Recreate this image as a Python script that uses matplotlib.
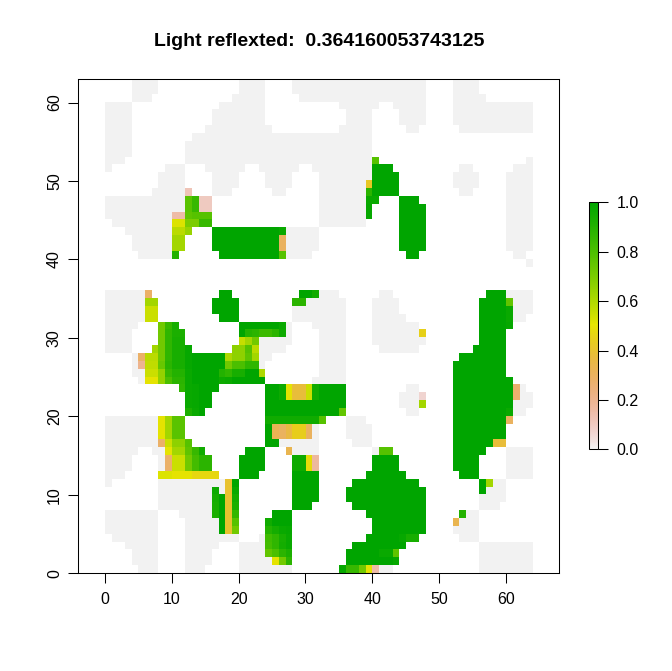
import colorsys
import numpy as np
import matplotlib
matplotlib.use("Agg")
import matplotlib.pyplot as plt
from matplotlib.colors import ListedColormap

TITLE = "Light reflexted:  0.364160053743125"
X_TICKS = [0, 10, 20, 30, 40, 50, 60]
Y_TICKS = [0, 10, 20, 30, 40, 50, 60]
BAR_TICKS = [0.0, 0.2, 0.4, 0.6, 0.8, 1.0]
N_COLS, N_ROWS = 64, 63

# Cells equal to zero: row -> column runs (start, stop)
ZERO_RUNS = {
    62: [(4,8),(20,24),(28,48),(52,56)],
    61: [(4,8),(20,24),(28,48),(52,56)],
    60: [(4,7),(19,24),(29,48),(52,57)],
    59: [(0,4),(17,24),(35,41),(43,48),(52,64)],
    58: [(0,4),(16,24),(36,40),(44,48),(52,64)],
    57: [(0,4),(16,24),(36,40),(44,48),(52,64)],
    56: [(0,4),(15,25),(35,40),(45,47),(53,64)],
    55: [(0,4),(13,40)],
    54: [(0,4),(12,40)],
    53: [(0,4),(12,40)],
    52: [(0,3),(12,40),(63,64)],
    51: [(0,1),(9,12),(15,21),(23,29),(31,40),(53,55),(61,64)],
    50: [(8,12),(16,20),(24,28),(32,40),(52,56),(60,64)],
    49: [(8,12),(16,20),(24,28),(32,39),(52,56),(60,64)],
    48: [(7,12),(16,19),(25,27),(32,39),(53,55),(60,64)],
    47: [(0,12),(32,39),(60,64)],
    46: [(0,12),(32,39),(60,64)],
    45: [(0,10),(32,39),(60,64)],
    44: [(1,10),(32,39),(60,64)],
    43: [(3,10),(27,32),(60,64)],
    42: [(4,10),(27,32),(60,64)],
    41: [(4,10),(27,32),(60,64)],
    40: [(5,10),(27,31),(61,63)],
    39: [(63,64)],
    35: [(0,6),(32,35),(41,43),(60,64)],
    34: [(0,6),(30,36),(40,44),(61,64)],
    33: [(0,6),(28,36),(40,44),(61,64)],
    32: [(0,6),(28,36),(40,45),(61,63)],
    31: [(0,5),(27,28),(31,36),(40,47)],
    30: [(0,4),(27,28),(32,36),(40,47)],
    29: [(0,4),(23,28),(32,36),(40,48)],
    28: [(0,4),(23,27),(32,36),(41,47)],
    27: [(4,5),(23,25),(32,36)],
    26: [(4,5),(23,24),(32,36)],
    25: [(4,6),(32,36)],
    24: [(5,6),(31,36)],
    23: [(45,47),(62,63)],
    22: [(44,47),(62,64)],
    21: [(44,47),(61,64)],
    20: [(45,47),(61,63)],
    19: [(0,8),(36,39)],
    18: [(0,8),(31,32),(36,40)],
    17: [(0,8),(31,32),(36,40)],
    16: [(0,8),(26,32),(37,40)],
    15: [(0,5),(7,9),(28,32),(40,41),(60,64)],
    14: [(0,4),(8,9),(60,64)],
    13: [(0,4),(8,9),(60,64)],
    12: [(0,3),(60,64)],
    11: [(0,1),(8,18),(58,60)],
    10: [(8,16),(17,18),(57,60)],
    9: [(8,16),(56,60)],
    8: [(8,16),(56,59)],
    7: [(0,8),(11,16),(54,56)],
    6: [(0,8),(12,17),(53,56)],
    5: [(0,8),(12,17),(52,56)],
    4: [(1,8),(12,20),(23,24),(53,56)],
    3: [(3,8),(12,17),(20,24),(56,64)],
    2: [(4,8),(12,16),(20,24),(56,64)],
    1: [(4,8),(12,16),(20,25),(56,64)],
    0: [(5,8),(12,15),(20,28),(41,43),(56,64)],
}

# Cells above zero: row -> (start, stop, value)
VALUE_RUNS = {
    52: [(40,41,.78)],
    51: [(40,43,1)],
    50: [(40,44,1)],
    49: [(39,40,.42),(40,44,1)],
    48: [(12,13,.12),(39,40,.88),(40,44,1)],
    47: [(12,13,.77),(13,14,.85),(14,16,.1),(39,41,.97),(44,47,1)],
    46: [(12,13,.77),(13,14,.85),(14,16,.1),(39,40,.98),(44,48,1)],
    45: [(10,12,.15),(12,13,.76),(13,16,.78),(39,40,.98),(44,48,1)],
    44: [(10,12,.52),(12,14,.7),(14,16,.85),(44,48,1)],
    43: [(10,12,.58),(12,13,.64),(16,26,1),(26,27,.97),(44,48,1)],
    42: [(10,12,.62),(16,26,1),(26,27,.3),(44,48,1)],
    41: [(10,12,.62),(16,26,1),(26,27,.3),(44,48,1)],
    40: [(10,11,.9),(17,26,1),(26,27,.78),(45,47,1)],
    35: [(6,7,.28),(17,19,1),(29,31,1),(31,32,.95),(57,60,1)],
    34: [(6,8,.62),(16,20,1),(28,30,.88),(56,60,1),(60,61,.75)],
    33: [(6,8,.55),(16,20,1),(56,60,1),(60,61,.97)],
    32: [(6,8,.55),(17,20,1),(56,60,1),(60,61,.97)],
    31: [(8,9,.72),(9,10,.85),(10,11,.93),(20,26,1),(26,27,.97),(56,60,1),(60,61,.98)],
    30: [(8,9,.72),(9,10,.87),(10,12,.92),(20,21,1),(21,22,.9),(22,23,.88),(23,25,.84),(25,26,.88),(26,27,.96),(47,48,.45),(56,60,1)],
    29: [(8,9,.72),(9,10,.87),(10,12,.93),(20,21,.56),(21,22,.62),(22,23,.72),(56,60,1)],
    28: [(7,8,.62),(8,9,.72),(9,10,.87),(10,12,.93),(12,13,.98),(19,21,.66),(21,22,.78),(22,23,.58),(55,60,1)],
    27: [(5,6,.28),(6,8,.58),(8,9,.72),(9,10,.87),(10,12,.93),(12,13,.98),(13,18,1),(18,19,.6),(19,21,.66),(21,22,.76),(22,23,.62),(53,60,1)],
    26: [(5,6,.2),(6,8,.57),(8,9,.74),(9,10,.88),(10,12,.93),(12,13,.98),(13,18,1),(18,19,.72),(19,21,.8),(21,23,.87),(52,60,1)],
    25: [(6,8,.55),(8,9,.65),(9,10,.85),(10,12,.9),(12,13,.97),(13,17,1),(17,18,.9),(18,19,.87),(19,21,.93),(21,23,1),(23,24,.6),(52,60,1)],
    24: [(6,8,.5),(8,9,.65),(9,10,.8),(10,12,.88),(12,13,.97),(13,17,1),(17,18,.96),(18,19,.97),(19,24,1),(52,61,1)],
    23: [(11,12,.87),(12,13,.97),(13,14,.98),(14,17,1),(24,26,1),(26,27,.96),(27,28,.5),(28,30,.38),(30,31,.55),(31,32,.95),(32,36,1),(52,61,1),(61,62,.27)],
    22: [(12,13,.97),(13,14,.98),(14,16,1),(24,26,1),(26,27,.96),(27,28,.5),(28,30,.38),(30,31,.55),(31,32,.95),(32,36,1),(47,48,.07),(52,61,1),(61,62,.27)],
    21: [(12,13,.97),(13,14,.98),(14,16,1),(24,36,1),(47,48,.62),(52,61,1)],
    20: [(12,13,.92),(13,14,.97),(14,15,1),(24,35,1),(35,36,.75),(52,60,1),(60,61,.97)],
    19: [(8,9,.5),(9,10,.62),(10,12,.77),(24,32,.95),(32,33,.78),(52,60,1),(60,61,.3)],
    18: [(8,9,.5),(9,10,.62),(10,12,.77),(24,25,1),(25,26,.32),(26,27,.3),(27,28,.36),(28,30,.44),(30,31,.3),(52,60,1)],
    17: [(8,9,.5),(9,10,.62),(10,12,.77),(24,25,1),(25,26,.32),(26,27,.3),(27,28,.36),(28,30,.44),(30,31,.3),(52,60,1)],
    16: [(8,9,.28),(9,10,.55),(10,12,.66),(12,13,.78),(24,26,1),(52,58,1),(58,60,.38)],
    15: [(9,10,.5),(10,12,.62),(12,13,.76),(13,14,.85),(14,15,.95),(21,24,1),(27,28,.33),(41,43,.78),(52,57,1)],
    14: [(9,10,.28),(10,12,.55),(12,13,.72),(13,14,.82),(14,16,.88),(20,24,1),(28,30,.96),(30,31,.48),(31,32,.17),(40,44,1),(52,56,1)],
    13: [(9,10,.28),(10,12,.55),(12,13,.72),(13,14,.82),(14,16,.88),(20,24,1),(28,30,.96),(30,31,.48),(31,32,.17),(40,44,1),(52,56,1)],
    12: [(8,10,.52),(10,13,.5),(13,17,.47),(20,23,1),(28,32,1),(39,45,1),(53,56,1)],
    11: [(18,19,.4),(19,20,1),(28,32,1),(37,47,1),(56,57,1),(57,58,.62)],
    10: [(16,17,.96),(18,19,.4),(19,20,.97),(28,32,1),(36,48,1),(56,57,1)],
    9: [(16,17,.94),(17,18,1),(18,19,.4),(19,20,.94),(28,32,1),(36,48,1)],
    8: [(16,17,.93),(17,18,1),(18,19,.4),(19,20,.92),(28,31,1),(37,48,1)],
    7: [(16,17,.92),(17,18,1),(18,19,.4),(19,20,.86),(25,28,1),(39,48,1),(53,54,.9)],
    6: [(17,18,1),(18,19,.4),(19,20,.78),(24,25,.95),(25,28,1),(40,48,1),(52,53,.33)],
    5: [(17,18,1),(18,19,.4),(19,20,.72),(24,25,.9),(25,26,.94),(26,27,.97),(27,28,.98),(40,48,1)],
    4: [(24,25,.83),(25,26,.87),(26,27,.93),(27,28,.97),(39,44,1),(44,45,.98),(45,47,.93)],
    3: [(24,25,.82),(25,26,.87),(26,27,.94),(27,28,.97),(37,45,1)],
    2: [(24,25,.75),(25,26,.8),(26,27,.88),(27,28,.92),(36,41,1),(41,43,.97),(43,44,.76)],
    1: [(25,26,.5),(26,27,.72),(27,28,.88),(36,43,1),(43,44,.98)],
    0: [(35,36,.98),(36,38,.85),(38,39,.72),(39,40,.5),(40,41,.15)],
}


def terrain_colors(n):
    """R's terrain.colors(n), reversed so that low is pale and high is green."""
    k = n // 2
    cols = [colorsys.hsv_to_rgb(h, 1.0, v)
            for h, v in zip(np.linspace(4/12, 2/12, k), np.linspace(.65, .9, k))]
    m = n - k + 1
    cols += [colorsys.hsv_to_rgb(h, s, v)
             for h, s, v in zip(np.linspace(2/12, 0, m)[1:],
                                np.linspace(1, 0, m)[1:],
                                np.linspace(.9, .95, m)[1:])]
    return cols[::-1]


grid = np.full((N_ROWS, N_COLS), np.nan)
for row, runs in ZERO_RUNS.items():
    for a, b in runs:
        grid[row, a:b] = 0.0
for row, runs in VALUE_RUNS.items():
    for a, b, v in runs:
        grid[row, a:b] = v

W, H = 672, 671
plt.rcParams['font.family'] = ['Liberation Sans', 'DejaVu Sans']
fig = plt.figure(figsize=(W/100, H/100), dpi=100)


def box(l, t, r, b):
    return [l/W, 1 - b/H, (r-l)/W, (b-t)/H]


cmap = ListedColormap(terrain_colors(255))
cmap.set_bad((1, 1, 1, 0))
ax = fig.add_axes(box(78.3, 79, 559.3, 573.3))
im = ax.imshow(np.ma.masked_invalid(grid), origin='lower', cmap=cmap, vmin=0, vmax=1,
               extent=(0, N_COLS, 0, N_ROWS), aspect='auto', interpolation='nearest')
ax.set_xlim(-4, 68)
ax.set_ylim(0, 63)
ax.set_xticks(X_TICKS)
ax.set_yticks(Y_TICKS)
ax.tick_params(length=7.2, width=0.75, labelsize=11.5)
ax.tick_params(axis='x', pad=6)
ax.tick_params(axis='y', pad=4.6)
plt.setp(ax.get_yticklabels(), rotation=90, va='center')
for s in ax.spines.values():
    s.set_linewidth(0.75)
ax.set_title(TITLE, fontsize=14, fontweight='bold', y=1, pad=23.5)

cax = fig.add_axes(box(589.3, 202.3, 598.3, 449.3))
cb = fig.colorbar(im, cax=cax)
cb.set_ticks(BAR_TICKS)
cb.set_ticklabels([f"{t:.1f}" for t in BAR_TICKS])
cax.tick_params(length=7.2, width=0.75, labelsize=11.5, pad=6)
cb.outline.set_linewidth(0.75)

fig.savefig("out.png", dpi=100)
